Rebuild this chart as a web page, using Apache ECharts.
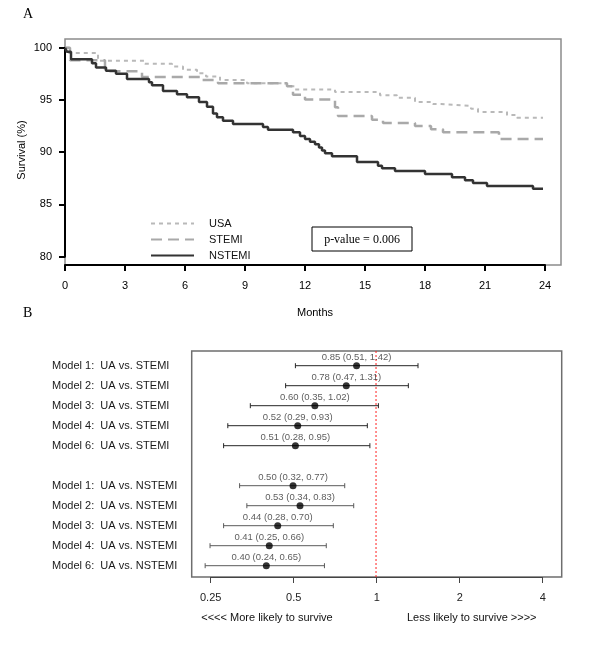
<!DOCTYPE html>
<html><head><meta charset="utf-8">
<script src="https://cdn.jsdelivr.net/npm/echarts/dist/echarts.min.js"></script>
<style>html,body{margin:0;padding:0;background:#fff}#c{width:600px;height:665px}</style>
</head><body><div id="c"></div>
<script>
// ---------- Panel A: Kaplan-Meier survival (months, survival %) ----------
const usaT = [0, 0.2, 1.65, 4.0, 5.35, 5.9, 6.6, 7.05, 7.75, 9.1, 11.1, 11.5, 13.5, 15.75, 16.6, 17.5, 18.4, 18.8, 20.3, 20.65, 22.1, 22.6, 23.9];
const usaS = [100, 99.5, 98.75, 98.45, 98.2, 97.88, 97.55, 97.25, 96.9, 96.6, 96.3, 96.0, 95.75, 95.45, 95.2, 94.8, 94.6, 94.42, 94.15, 93.85, 93.55, 93.3, 93.3];
const stemiT = [0, 0.25, 2.0, 3.85, 6.85, 7.65, 11.1, 11.4, 12.0, 13.5, 13.65, 15.35, 15.9, 17.5, 18.3, 18.9, 21.7, 23.9];
const stemiS = [100, 98.8, 97.75, 97.2, 96.9, 96.6, 96.3, 95.5, 95.05, 94.3, 93.45, 93.1, 92.8, 92.5, 92.2, 91.9, 91.25, 91.25];
const nstemiT = [0, 0.1, 0.3, 1.35, 1.55, 2.05, 2.55, 3.1, 4.2, 4.35, 4.9, 5.6, 6.1, 6.7, 7.1, 7.4, 7.6, 7.9, 8.4, 9.9, 10.15, 11.4, 11.75, 12.0, 12.25, 12.5, 12.7, 12.85, 13.0, 13.35, 14.6, 15.65, 15.85, 16.5, 18.0, 19.35, 20.0, 20.4, 21.1, 23.4, 23.9];
const nstemiS = [100, 99.6, 98.9, 98.5, 98.1, 97.8, 97.5, 97.0, 96.7, 96.4, 95.85, 95.55, 95.25, 94.8, 94.35, 93.7, 93.35, 93.0, 92.7, 92.4, 92.15, 91.9, 91.55, 91.25, 91.0, 90.75, 90.45, 90.15, 89.9, 89.6, 89.05, 88.7, 88.45, 88.2, 87.9, 87.6, 87.3, 87.05, 86.75, 86.5, 86.5];
const seriesNames = ['USA', 'STEMI', 'NSTEMI'];
const pValueText = 'p-value = 0.006';

// ---------- Panel B: forest plot (hazard ratios) ----------
const rowLabels = [
  'Model 1:  UA vs. STEMI', 'Model 2:  UA vs. STEMI', 'Model 3:  UA vs. STEMI', 'Model 4:  UA vs. STEMI', 'Model 6:  UA vs. STEMI',
  '',
  'Model 1:  UA vs. NSTEMI', 'Model 2:  UA vs. NSTEMI', 'Model 3:  UA vs. NSTEMI', 'Model 4:  UA vs. NSTEMI', 'Model 6:  UA vs. NSTEMI'
];
const stemiRows = [0, 1, 2, 3, 4];
const stemiEst = [0.85, 0.78, 0.60, 0.52, 0.51];
const stemiLo  = [0.51, 0.47, 0.35, 0.29, 0.28];
const stemiHi  = [1.42, 1.31, 1.02, 0.93, 0.95];
const nstemiRows = [6, 7, 8, 9, 10];
const nstemiEst = [0.50, 0.53, 0.44, 0.41, 0.40];
const nstemiLo  = [0.32, 0.34, 0.28, 0.25, 0.24];
const nstemiHi  = [0.77, 0.83, 0.70, 0.66, 0.65];
const refValue = 1;
const leftNote = '<<<< More likely to survive';
const rightNote = 'Less likely to survive >>>>';

// ---------- build ----------
const SANS = '"Liberation Sans", Arial, Helvetica, sans-serif';
const SERIF = '"Liberation Serif", "Times New Roman", serif';
const zip = (a, b) => a.map((v, i) => [v, b[i]]);
const forestBars = [];
const forestPts = [];
stemiRows.forEach((r, i) => { forestBars.push([stemiLo[i], stemiHi[i], r, 0]); forestPts.push([stemiEst[i], r, stemiLo[i], stemiHi[i]]); });
nstemiRows.forEach((r, i) => { forestBars.push([nstemiLo[i], nstemiHi[i], r, 1]); forestPts.push([nstemiEst[i], r, nstemiLo[i], nstemiHi[i]]); });

const bYMin = -0.735, bYMax = 10.565;
const chart = echarts.init(document.getElementById('c'));
chart.setOption({
  animation: false,
  backgroundColor: '#fff',
  textStyle: { fontFamily: SANS },
  grid: [
    { left: 65, top: 39, width: 496, height: 226, show: true, borderColor: '#8c8c8c', borderWidth: 1.5, backgroundColor: 'transparent' },
    { left: 65, top: 39, width: 480, height: 226 },
    { left: 65, top: 47.7, width: 496, height: 209 },
    { left: 191.7, top: 351, width: 370, height: 226, show: true, borderColor: '#6e6e6e', borderWidth: 1.5, backgroundColor: 'transparent' },
    { left: 191.7, top: 355.7, width: 370, height: 220 },
    { left: 210.7, top: 351, width: 332, height: 226 }
  ],
  xAxis: [
    { gridIndex: 0, type: 'value', min: 0, max: 24.8, show: false },
    { gridIndex: 1, type: 'value', min: 0, max: 24, interval: 3,
      axisLine: { show: true, lineStyle: { color: '#000', width: 2 } },
      axisTick: { show: true, length: 6, lineStyle: { color: '#000', width: 2 } },
      axisLabel: { color: '#000', fontSize: 11, margin: 15, fontFamily: SANS },
      splitLine: { show: false } },
    { gridIndex: 2, type: 'value', show: false },
    { gridIndex: 3, type: 'log', logBase: 2, min: 0.2145, max: 4.715, show: false },
    { gridIndex: 4, type: 'value', show: false },
    { gridIndex: 5, type: 'log', logBase: 2, min: 0.25, max: 4,
      axisLine: { show: true, lineStyle: { color: '#444', width: 1 } },
      axisTick: { show: true, length: 6, lineStyle: { color: '#444', width: 1 } },
      axisLabel: { color: '#222', fontSize: 11, margin: 15, fontFamily: SANS },
      splitLine: { show: false }, minorTick: { show: false } }
  ],
  yAxis: [
    { gridIndex: 0, type: 'value', min: 79.2, max: 100.83, show: false },
    { gridIndex: 1, type: 'value', show: false },
    { gridIndex: 2, type: 'value', min: 80, max: 100, interval: 5,
      axisLine: { show: true, lineStyle: { color: '#000', width: 2 } },
      axisTick: { show: true, length: 6, lineStyle: { color: '#000', width: 2 } },
      axisLabel: { color: '#000', fontSize: 11, margin: 13, fontFamily: SANS },
      splitLine: { show: false } },
    { gridIndex: 3, type: 'value', min: bYMin, max: bYMax, inverse: true, show: false },
    { gridIndex: 4, type: 'category', inverse: true, data: rowLabels,
      axisLine: { show: false }, axisTick: { show: false },
      axisLabel: { align: 'left', margin: 139.7, fontSize: 11, color: '#1a1a1a', fontFamily: SANS, interval: 0 } },
    { gridIndex: 5, type: 'value', show: false }
  ],
  legend: {
    orient: 'vertical', left: 145, top: 213, itemWidth: 43, itemHeight: 10, itemGap: 5,
    data: seriesNames, selectedMode: false,
    itemStyle: { opacity: 0, borderWidth: 0 },
    textStyle: { fontSize: 11, color: '#111', fontFamily: SANS, padding: [0, 0, 0, 10] }
  },
  series: [
    { name: 'USA', type: 'line', step: 'end', xAxisIndex: 0, yAxisIndex: 0, symbol: 'none', data: zip(usaT, usaS),
      lineStyle: { color: '#b9b9b9', width: 2, type: [4, 4] }, itemStyle: { color: '#b9b9b9' }, z: 3 },
    { name: 'STEMI', type: 'line', step: 'end', xAxisIndex: 0, yAxisIndex: 0, symbol: 'none', data: zip(stemiT, stemiS),
      lineStyle: { color: '#a9a9a9', width: 2.5, type: [11, 6] }, itemStyle: { color: '#a9a9a9' }, z: 4 },
    { name: 'NSTEMI', type: 'line', step: 'end', xAxisIndex: 0, yAxisIndex: 0, symbol: 'none', data: zip(nstemiT, nstemiS),
      lineStyle: { color: '#333', width: 2.5, type: 'solid' }, itemStyle: { color: '#333' }, z: 5 },
    { type: 'line', xAxisIndex: 3, yAxisIndex: 3, symbol: 'none', silent: true,
      data: [[refValue, bYMin], [refValue, bYMax]],
      lineStyle: { color: '#ff2020', width: 1, type: [2, 2] }, z: 1 },
    { type: 'custom', xAxisIndex: 3, yAxisIndex: 3, data: forestBars, encode: { x: [0, 1], y: 2 }, z: 2,
      renderItem: (params, api) => {
        const row = api.value(2);
        const a = api.coord([api.value(0), row]);
        const b = api.coord([api.value(1), row]);
        const col = api.value(3) === 0 ? '#262626' : '#5a5a5a';
        const h = 2.5;
        const st = { stroke: col, lineWidth: 1 };
        return { type: 'group', children: [
          { type: 'line', shape: { x1: a[0], y1: a[1], x2: b[0], y2: b[1] }, style: st },
          { type: 'line', shape: { x1: a[0], y1: a[1] - h, x2: a[0], y2: a[1] + h }, style: st },
          { type: 'line', shape: { x1: b[0], y1: b[1] - h, x2: b[0], y2: b[1] + h }, style: st }
        ] };
      } },
    { type: 'scatter', xAxisIndex: 3, yAxisIndex: 3, data: forestPts, symbol: 'circle', symbolSize: 7,
      itemStyle: { color: '#000' }, z: 3,
      label: { show: true, position: 'inside', offset: [0, -8], color: '#333', fontSize: 9.5, fontFamily: SANS,
        formatter: p => p.value[0].toFixed(2) + ' (' + p.value[2].toFixed(2) + ', ' + p.value[3].toFixed(2) + ')' } }
  ],
  graphic: [
    { type: 'text', left: 23, top: 7, style: { text: 'A', font: '14px ' + SERIF, fill: '#000' } },
    { type: 'text', left: 23, top: 306, style: { text: 'B', font: '14px ' + SERIF, fill: '#000' } },
    { type: 'text', x: 315, y: 313, style: { text: 'Months', font: '11px ' + SANS, fill: '#000', textAlign: 'center', textVerticalAlign: 'middle' } },
    { type: 'text', x: 22, y: 150, rotation: Math.PI / 2, style: { text: 'Survival (%)', font: '11px ' + SANS, fill: '#000', textAlign: 'center', textVerticalAlign: 'middle' } },
    { type: 'rect', shape: { x: 312, y: 227, width: 100, height: 24 }, style: { fill: 'none', stroke: '#000', lineWidth: 1 } },
    { type: 'text', x: 362, y: 239.5, style: { text: pValueText, font: '12px ' + SERIF, fill: '#000', textAlign: 'center', textVerticalAlign: 'middle' } },
    { type: 'text', x: 267, y: 618, style: { text: leftNote, font: '11px ' + SANS, fill: '#111', textAlign: 'center', textVerticalAlign: 'middle' } },
    { type: 'text', x: 471.7, y: 618, style: { text: rightNote, font: '11px ' + SANS, fill: '#111', textAlign: 'center', textVerticalAlign: 'middle' } }
  ]
});
</script>
</body></html>
